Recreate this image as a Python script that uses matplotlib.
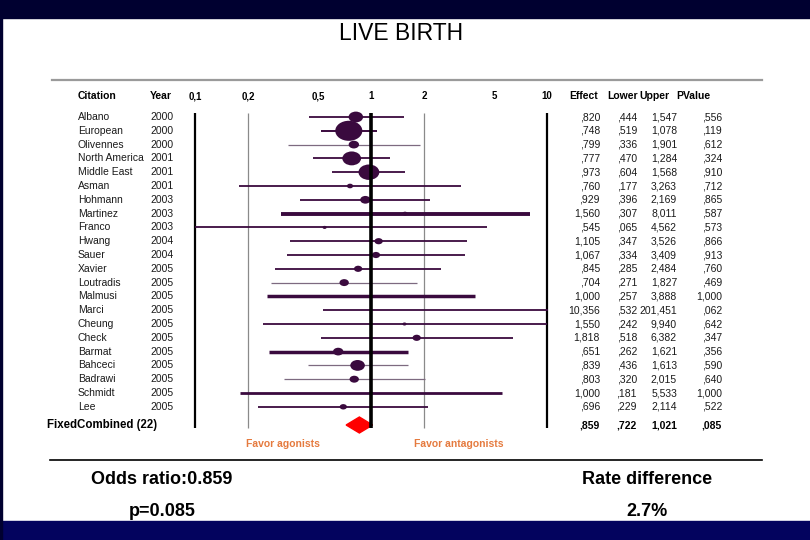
import matplotlib
matplotlib.use("Agg")
import matplotlib.pyplot as plt
import numpy as np
from matplotlib.path import Path
from matplotlib.markers import MarkerStyle
from matplotlib.transforms import Affine2D, blended_transform_factory
from matplotlib.patches import Polygon, Rectangle
from matplotlib.lines import Line2D

plt.rcParams['font.family'] = ['Liberation Sans', 'DejaVu Sans']

# ---------------- data ----------------
title = "LIVE BIRTH"
citations = ["Albano", "European", "Olivennes", "North America", "Middle East", "Asman",
             "Hohmann", "Martinez", "Franco", "Hwang", "Sauer", "Xavier", "Loutradis",
             "Malmusi", "Marci", "Cheung", "Check", "Barmat", "Bahceci", "Badrawi",
             "Schmidt", "Lee"]
years = [2000, 2000, 2000, 2001, 2001, 2001, 2003, 2003, 2003, 2004, 2004, 2005, 2005,
         2005, 2005, 2005, 2005, 2005, 2005, 2005, 2005, 2005]
effect = [0.820, 0.748, 0.799, 0.777, 0.973, 0.760, 0.929, 1.560, 0.545, 1.105, 1.067,
          0.845, 0.704, 1.000, 10.356, 1.550, 1.818, 0.651, 0.839, 0.803, 1.000, 0.696]
lower = [0.444, 0.519, 0.336, 0.470, 0.604, 0.177, 0.396, 0.307, 0.065, 0.347, 0.334,
         0.285, 0.271, 0.257, 0.532, 0.242, 0.518, 0.262, 0.436, 0.320, 0.181, 0.229]
upper = [1.547, 1.078, 1.901, 1.284, 1.568, 3.263, 2.169, 8.011, 4.562, 3.526, 3.409,
         2.484, 1.827, 3.888, 201.451, 9.940, 6.382, 1.621, 1.613, 2.015, 5.533, 2.114]
pvalue = [0.556, 0.119, 0.612, 0.324, 0.910, 0.712, 0.865, 0.587, 0.573, 0.866, 0.913,
          0.760, 0.469, 1.000, 0.062, 0.642, 0.347, 0.356, 0.590, 0.640, 1.000, 0.522]
# relative study weights (marker size)
weights = [14, 26, 10, 18, 20, 6, 10, 5, 4, 8, 8, 8, 9, 4, 4, 4, 8, 10, 14, 9, 4, 7]

combined_label = "FixedCombined (22)"
combined = [0.859, 0.722, 1.021, 0.085]   # effect, lower, upper, p

tick_values = [0.1, 0.2, 0.5, 1, 2, 5, 10]
tick_labels = ["0,1", "0,2", "0,5", "1", "2", "5", "10"]
grid_black = [0.1, 10]
grid_grey = [0.2, 2]

headers = ["Citation", "Year", "Effect", "Lower", "Upper", "PValue"]
favor_left = "Favor agonists"
favor_right = "Favor antagonists"
summary_left = ["Odds ratio:0.859", "p=0.085"]
summary_right = ["Rate difference", "2.7%"]

# ---------------- styles ----------------
line_w = [1.3, 1.4, 0.9, 1.3, 1.3, 1.3, 1.3, 2.8, 1.3, 1.3, 1.3, 1.3, 0.9,
          2.5, 1.3, 1.3, 1.3, 2.5, 0.9, 0.9, 2.0, 1.3]
thin_rows = {2, 12, 18, 19}
DARK = "#3a0a3e"
THIN = "#7d6a80"
ORANGE = "#e57a3e"


def fmt(v):
    s = f"{v:.3f}".replace(".", ",")
    if s.startswith("0,"):
        s = s[1:]
    return s


W, H = 810, 540
fig = plt.figure(figsize=(W / 100, H / 100), dpi=100)
fig.patch.set_facecolor("white")

ROW0, STEP = 117.0, 13.8


def ry(px):
    return (px - ROW0) / STEP


def fx(px):
    return px / W


def fy(px):
    return 1 - px / H


ax = fig.add_axes([fx(195), fy(460), (547 - 195) / W, (460 - 80) / H])
ax.set_xscale("log")
ax.set_xlim(0.1, 10)
ax.set_ylim(ry(460), ry(80))
ax.axis("off")

n = len(citations)
rows = np.arange(n)

# vertical reference lines
ax.vlines(grid_grey, ry(113), ry(428), color="#8a8a8a", lw=0.9, clip_on=False, zorder=1)
ax.vlines(grid_black, ry(113), ry(428), color="black", lw=1.6, clip_on=False, zorder=1)
ax.vlines([1], ry(113), ry(428), color="black", lw=2.6, clip_on=False, zorder=5)

# CI lines
for i in range(n):
    col = THIN if i in thin_rows else DARK
    lo = max(lower[i], 0.1)
    hi = min(upper[i], 10.15)
    ax.plot([lo, hi], [i, i], color=col, lw=line_w[i], solid_capstyle="butt",
            clip_on=False, zorder=2)

# markers (ellipses)
ell = MarkerStyle(Path.unit_circle().transformed(Affine2D().scale(1.35, 1.0)))
eff = np.array(effect)
w = np.array(weights, dtype=float)
mask = (eff >= 0.1) & (eff <= 10)
ax.scatter(eff[mask], rows[mask], s=(0.75 * w[mask]) ** 2, marker=ell,
           color=DARK, edgecolors="none", zorder=3, clip_on=False)

# combined diamond
yc = ry(425)
hh = 8 / STEP
ax.add_patch(Polygon([(combined[1], yc), (combined[0], yc - hh), (combined[2], yc),
                      (combined[0], yc + hh)], closed=True, color="#ff0000",
                     zorder=4, clip_on=False))

# tick labels (header row)
yh = ry(96)
for v, lab in zip(tick_values, tick_labels):
    ax.text(v, yh, lab, ha="center", va="center", fontsize=7, weight="bold", clip_on=False)

tr = blended_transform_factory(fig.transFigure, ax.transData)
TXT = "#1a1a1a"
fs = 7.5

# headers
fig_hdr = [(78, "left"), (150, "left"), (569, "left"), (607, "left"), (639, "left"), (676, "left")]
for (x, ha), h in zip(fig_hdr, headers):
    ax.text(fx(x), yh, h, transform=tr, ha=ha, va="center", fontsize=7.5, weight="bold")

# rows
for i in range(n):
    ax.text(fx(78), i, citations[i], transform=tr, ha="left", va="center", fontsize=fs, color=TXT)
    ax.text(fx(150), i, str(years[i]), transform=tr, ha="left", va="center", fontsize=fs, color=TXT)
    ax.text(fx(600), i, fmt(effect[i]), transform=tr, ha="right", va="center", fontsize=fs, color=TXT)
    ax.text(fx(637), i, fmt(lower[i]), transform=tr, ha="right", va="center", fontsize=fs, color=TXT)
    ax.text(fx(677), i, fmt(upper[i]), transform=tr, ha="right", va="center", fontsize=fs, color=TXT)
    ax.text(fx(722), i, fmt(pvalue[i]), transform=tr, ha="right", va="center", fontsize=fs, color=TXT)

# combined row text
ax.text(fx(47), yc, combined_label, transform=tr, ha="left", va="center", fontsize=8.3, weight="bold")
for x, v in zip([600, 637, 677, 722], combined):
    ax.text(fx(x), yc, fmt(v), transform=tr, ha="right", va="center", fontsize=fs, weight="bold")

# favor labels
ax.text(fx(283), ry(444), favor_left, transform=tr, ha="center", va="center",
        fontsize=7.5, weight="bold", color=ORANGE)
ax.text(fx(459), ry(444), favor_right, transform=tr, ha="center", va="center",
        fontsize=7.5, weight="bold", color=ORANGE)

# slide decorations
fig.add_artist(Rectangle((0, fy(18)), 1, 18 / H, transform=fig.transFigure, color="#000030", zorder=10))
fig.add_artist(Rectangle((0, 0), 1, 19 / H, transform=fig.transFigure, color="#03035e", zorder=10))
fig.add_artist(Rectangle((0, 0), 2 / W, 1, transform=fig.transFigure, color="#000030", zorder=10))
fig.add_artist(Line2D([fx(52), fx(762)], [fy(80), fy(80)], transform=fig.transFigure,
                      color="#9a9a9a", lw=1.6))
fig.add_artist(Line2D([fx(50), fx(762)], [fy(460), fy(460)], transform=fig.transFigure,
                      color="black", lw=1.2))

fig.text(fx(401), fy(33), title, ha="center", va="center", fontsize=16.5)
fig.text(fx(162), fy(480), summary_left[0], ha="center", va="center", fontsize=13, weight="bold")
fig.text(fx(162), fy(512), summary_left[1], ha="center", va="center", fontsize=13, weight="bold")
fig.text(fx(647), fy(479), summary_right[0], ha="center", va="center", fontsize=13, weight="bold")
fig.text(fx(647), fy(512), summary_right[1], ha="center", va="center", fontsize=13, weight="bold")

fig.savefig("out.png", dpi=100)
